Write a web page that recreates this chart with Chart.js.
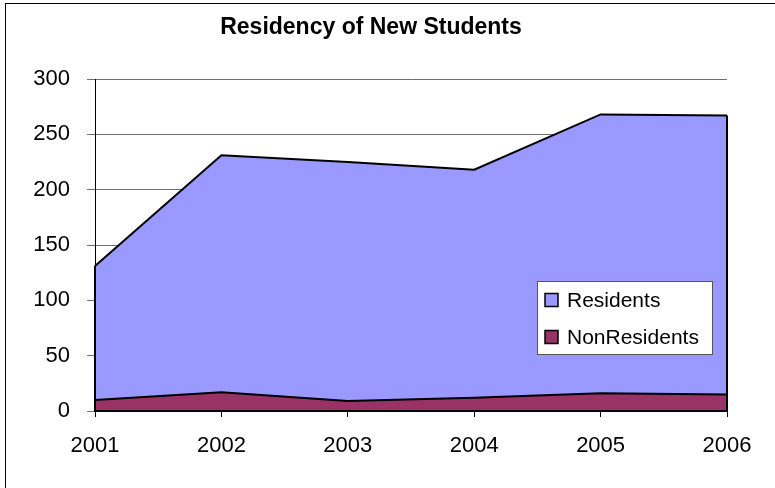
<!DOCTYPE html>
<html>
<head>
<meta charset="utf-8">
<script src="https://cdn.jsdelivr.net/npm/chart.js@4.4.1/dist/chart.umd.min.js"></script>
<style>
  body { margin: 0; background: #fff; }
  #wrap { width: 775px; height: 488px; }
</style>
</head>
<body>
<div id="wrap"><canvas id="myChart" width="775" height="488"></canvas></div>
<script>
// donnees
const years = ["2001", "2002", "2003", "2004", "2005", "2006"];
const nonResidents = [10, 17, 9, 12, 16, 15];
const residents = [121, 214, 216, 206, 252, 252]; // empile au-dessus des non residents
const yTicks = [0, 50, 100, 150, 200, 250, 300];
const chartTitle = "Residency of New Students";

const FONT = "Arial, 'Liberation Sans', sans-serif";

// cadre du graphique (bord gauche et haut visibles)
const framePlugin = {
  id: "frame",
  beforeDraw(chart) {
    const ctx = chart.ctx;
    ctx.save();
    ctx.fillStyle = "#fff";
    ctx.fillRect(0, 0, chart.width, chart.height);
    ctx.strokeStyle = "#000";
    ctx.lineWidth = 1;
    ctx.strokeRect(5.5, 3.5, 1000, 1000);
    ctx.restore();
  },
};

// bords noirs des aires : base et cotes verticaux
const edgesPlugin = {
  id: "edges",
  afterDatasetsDraw(chart) {
    const ctx = chart.ctx;
    const area = chart.chartArea;
    const pts = chart.getDatasetMeta(1).data;
    const first = pts[0];
    const last = pts[pts.length - 1];
    ctx.save();
    ctx.strokeStyle = "#000";
    ctx.lineWidth = 2;
    ctx.beginPath();
    ctx.moveTo(first.x, first.y);
    ctx.lineTo(first.x, area.bottom);
    ctx.lineTo(last.x, area.bottom);
    ctx.lineTo(last.x, last.y);
    ctx.stroke();
    ctx.restore();
  },
};

// titre + legende a l'interieur du graphique
const labelsPlugin = {
  id: "labels",
  afterDraw(chart) {
    const ctx = chart.ctx;
    ctx.save();
    ctx.fillStyle = "#000";
    ctx.font = "bold 23px " + FONT;
    ctx.textAlign = "center";
    ctx.textBaseline = "middle";
    ctx.fillText(chartTitle, 371, 28);

    // boite de legende
    const bx = 537.5, by = 281.5, bw = 175, bh = 73;
    ctx.fillStyle = "#fff";
    ctx.fillRect(bx, by, bw, bh);
    ctx.strokeStyle = "#555";
    ctx.lineWidth = 1;
    ctx.strokeRect(bx, by, bw, bh);

    const items = chart.data.datasets.slice().reverse();
    ctx.font = "21px " + FONT;
    ctx.textAlign = "left";
    items.forEach((ds, i) => {
      const cy = 300 + i * 37;
      ctx.fillStyle = ds.backgroundColor;
      ctx.fillRect(545, cy - 6.5, 13, 13);
      ctx.strokeStyle = "#000";
      ctx.lineWidth = 1.5;
      ctx.strokeRect(545, cy - 6.5, 13, 13);
      ctx.fillStyle = "#000";
      ctx.fillText(ds.label, 567, cy + 1);
    });
    ctx.restore();
  },
};

const data = {
  labels: years,
  datasets: [
    {
      label: "NonResidents",
      data: nonResidents,
      backgroundColor: "#993366",
      borderColor: "#000",
      borderWidth: 2,
      fill: "origin",
      pointRadius: 0,
      tension: 0,
    },
    {
      label: "Residents",
      data: residents,
      backgroundColor: "#9999FF",
      borderColor: "#000",
      borderWidth: 2,
      fill: "-1",
      pointRadius: 0,
      tension: 0,
    },
  ],
};

const config = {
  type: "line",
  data: data,
  plugins: [framePlugin, edgesPlugin, labelsPlugin],
  options: {
    responsive: false,
    animation: false,
    layout: { padding: { top: 79, right: 48, left: 0, bottom: 0 } },
    plugins: {
      legend: { display: false },
      title: { display: false },
      tooltip: { enabled: false },
    },
    scales: {
      x: {
        offset: false,
        grid: {
          display: true,
          drawOnChartArea: false,
          drawTicks: true,
          tickLength: 6,
          color: "#000",
        },
        border: { display: true, color: "#000", width: 1 },
        ticks: {
          color: "#000",
          font: { family: FONT, size: 22 },
          padding: 16,
          maxRotation: 0,
        },
        afterFit(scale) {
          scale.height = 77;
        },
      },
      y: {
        stacked: true,
        min: 0,
        max: 300,
        afterBuildTicks(scale) {
          scale.ticks = yTicks.map((v) => ({ value: v }));
        },
        grid: {
          color: "#6e6e6e",
          lineWidth: 1,
          tickLength: 8,
        },
        border: { display: true, color: "#000", width: 1 },
        ticks: {
          color: "#000",
          font: { family: FONT, size: 22 },
          padding: 17,
        },
        afterFit(scale) {
          scale.width = 95;
        },
      },
    },
  },
};

let context = document.getElementById("myChart").getContext("2d");
let chart = new Chart(context, config);
</script>
</body>
</html>
